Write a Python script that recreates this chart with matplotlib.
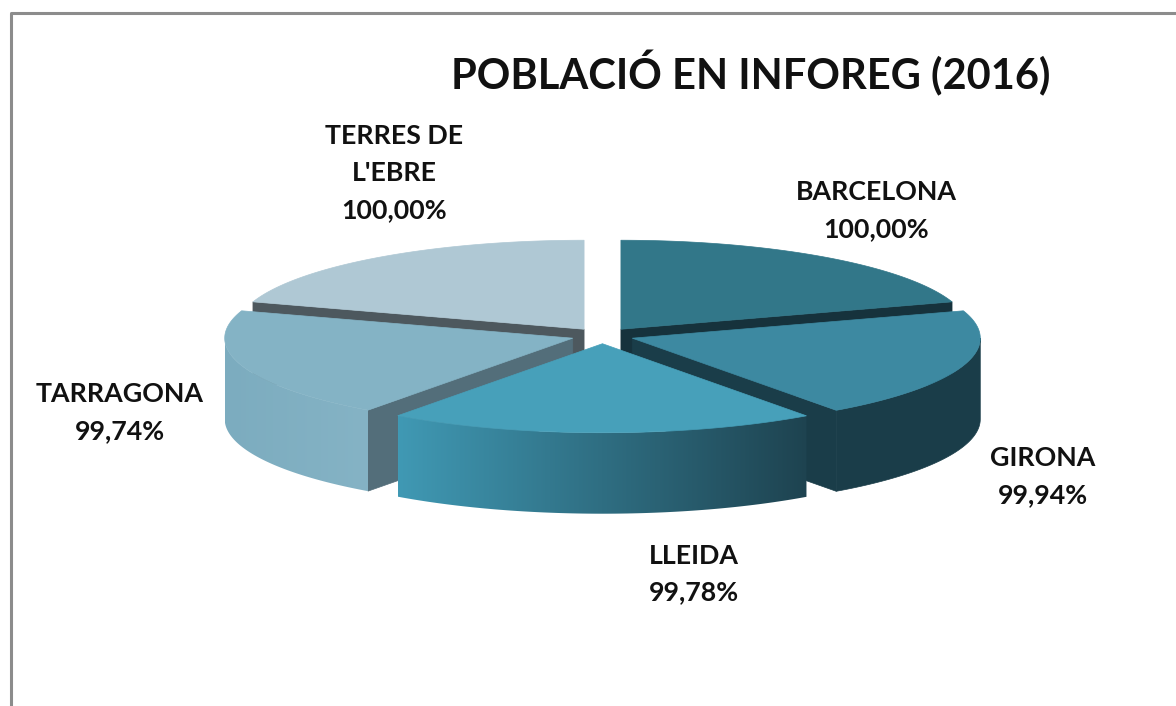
import numpy as np
import matplotlib
matplotlib.use("Agg")
import matplotlib.pyplot as plt
from matplotlib.patches import Polygon

plt.rcParams['font.family'] = ['Lato', 'DejaVu Sans']

categories = ["BARCELONA", "GIRONA", "LLEIDA", "TARRAGONA", "TERRES DE\nL'EBRE"]
values = [100.00, 99.94, 99.78, 99.74, 100.00]

top_colors = ["#327789", "#3d89a1", "#47a0ba", "#84b3c5", "#afc8d4"]
wall_colors = ["#16323c", "#1a3d49", "#1e4350", "#536e7a", "#4d585e"]
side_left = ["#1a3d49", "#1a3d49", "#4099b4", "#7cacbf", "#4d585e"]
side_right = ["#1a3d49", "#1a3d49", "#1e4350", "#85b3c5", "#4d585e"]
label_xy = [(876, 211), (1043, 477), (694, 574), (120, 413), (394, 173)]

# pie geometry, in pixels
cx, cy = 602.5, 335.7
rx, ry = 348, 89
depth = 81
explode = 0.09

fig = plt.figure(figsize=(11.76, 7.06), dpi=100)
ax = fig.add_axes([0, 0, 1, 1])


def project(center, ang, r=1.0):
    # angle is clockwise from the top of the pie
    return center[0] + r * rx * np.sin(ang), center[1] - r * ry * np.cos(ang)


def wall(p0, p1, color):
    pts = [p0, p1, (p1[0], p1[1] + depth), (p0[0], p0[1] + depth)]
    ax.add_patch(Polygon(pts, closed=True, fc=color, ec=color, lw=0.5))


def outer_side(center, a0, a1, c_left, c_right):
    a0 = max(a0, np.pi / 2)
    a1 = min(a1, 3 * np.pi / 2)
    if a1 <= a0:
        return
    t = np.linspace(a0, a1, 80)
    x, y = project(center, t)
    pts = np.r_[np.c_[x, y], np.c_[x, y + depth][::-1]]
    if c_left == c_right:
        ax.add_patch(Polygon(pts, closed=True, fc=c_left, ec=c_left, lw=0.5))
        return
    left = np.array(matplotlib.colors.to_rgb(c_left))
    right = np.array(matplotlib.colors.to_rgb(c_right))
    grad = np.linspace(0, 1, 256)[None, :, None]
    img = left + (right - left) * grad
    poly = Polygon(pts, closed=True, fc="none", ec="none", transform=ax.transData)
    ax.add_patch(poly)
    im = ax.imshow(img, extent=(x.min(), x.max(), y.max() + depth, y.min()),
                   aspect="auto", zorder=poly.get_zorder())
    im.set_clip_path(poly)


fractions = np.array(values) / np.sum(values)
edges = np.r_[0, np.cumsum(fractions)] * 2 * np.pi

# back wedges first so the front ones cover them
for i in [4, 0, 3, 1, 2]:
    a0, a1 = edges[i], edges[i + 1]
    center = project((cx, cy), (a0 + a1) / 2, explode)
    # the cut face that looks to the viewer
    if a1 < np.pi:
        wall(center, project(center, a1), wall_colors[i])
    if a0 > np.pi:
        wall(center, project(center, a0), wall_colors[i])
    outer_side(center, a0, a1, side_left[i], side_right[i])
    t = np.linspace(a0, a1, 120)
    x, y = project(center, t)
    pts = np.r_[[center], np.c_[x, y]]
    ax.add_patch(Polygon(pts, closed=True, fc=top_colors[i], ec=top_colors[i], lw=0.5))

for name, val, (lx, ly) in zip(categories, values, label_xy):
    txt = name + "\n" + f"{val:.2f}".replace(".", ",") + "%"
    ax.text(lx, ly, txt, ha="center", va="center", fontsize=19.3, fontweight="bold",
            color="#111111", linespacing=1.65)

ax.text(751, 73, "POBLACIÓ EN INFOREG (2016)", ha="center", va="center",
        fontsize=30, fontweight="bold", color="#111111")

# chart frame, cut off at the right and bottom of the picture
ax.plot([11, 11, 1176], [706, 13, 13], color="#8c8c8c", lw=2.2)

ax.set_xlim(0, 1176)
ax.set_ylim(706, 0)
ax.axis("off")
fig.savefig("out.png", dpi=100)
